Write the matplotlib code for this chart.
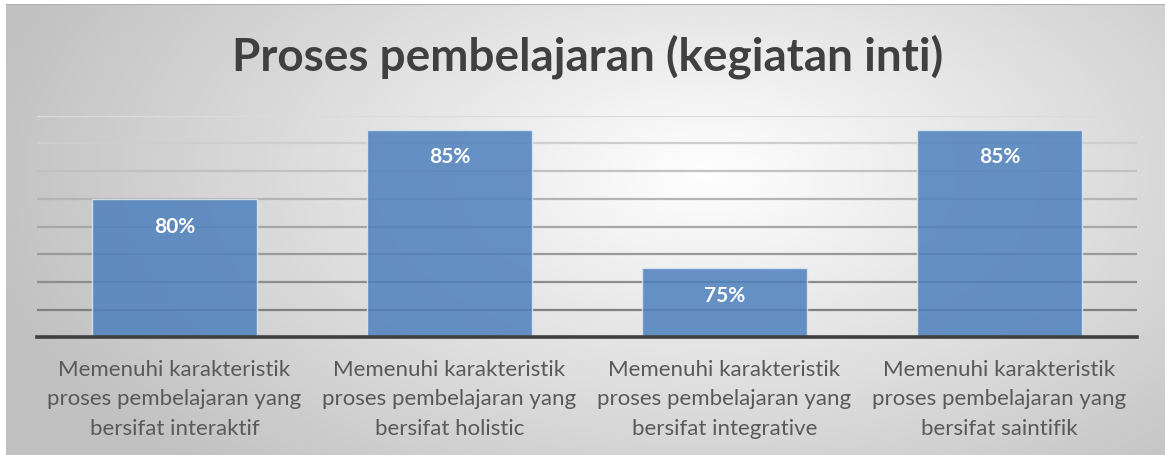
import numpy as np
import matplotlib.pyplot as plt

categories = [
    "Memenuhi karakteristik\nproses pembelajaran yang\nbersifat interaktif",
    "Memenuhi karakteristik\nproses pembelajaran yang\nbersifat holistic",
    "Memenuhi karakteristik\nproses pembelajaran yang\nbersifat integrative",
    "Memenuhi karakteristik\nproses pembelajaran yang\nbersifat saintifik",
]
values = [80, 85, 75, 85]
labels = ["80%", "85%", "75%", "85%"]
title = "Proses pembelajaran (kegiatan inti)"

W, H = 1165, 455
fig = plt.figure(figsize=(W / 100, H / 100), dpi=100)
fig.patch.set_facecolor("white")

# radial gray background of the chart area
bg = fig.add_axes([6 / W, 0, 1 - 6 / W, 1 - 4 / H])
yy, xx = np.mgrid[0:451, 0:1159]
d = np.sqrt(((xx - 700) / 760.0) ** 2 + ((yy - 170) / 420.0) ** 2)
g = np.clip(1.0 - 0.25 * d, 0.76, 1.0)
bg.imshow(np.dstack([g, g, g]), aspect="auto", extent=[0, 1, 0, 1])
bg.set_axis_off()
bg.plot([0, 1], [1, 1], color="#b0b0b0", lw=1.5, transform=bg.transAxes)

ax = fig.add_axes([37 / W, 1 - 337.3 / H, 1100 / W, (337.3 - 115.7) / H])
ax.patch.set_alpha(0)
x = np.arange(len(values))
bars = ax.bar(x, values, width=0.6, color="#4f81bd", alpha=0.86,
              edgecolor="#dce6f2", linewidth=1.0, zorder=2)
ax.set_xlim(-0.5, 3.5)
ax.set_ylim(70, 86)

# gridlines, lighter toward top
for v in range(72, 87, 2):
    t = (v - 72) / 14.0
    c = 0.5 + 0.36 * t
    ax.axhline(v, color=(c, c, c), lw=1.6, zorder=1)
ax.axhline(70, color="#404040", lw=2.6, zorder=4, clip_on=False)

for xi, v, lab in zip(x, values, labels):
    ax.text(xi, v - 2.0, lab, ha="center", va="center", color="white",
            fontsize=15, fontweight="bold", family="Lato", zorder=5)

ax.set_xticks(x)
ax.set_xticklabels(categories, fontsize=16, color="#595959", family="Lato",
                   linespacing=1.6)
ax.tick_params(axis="x", length=0, pad=16)
ax.set_yticks([])
for s in ax.spines.values():
    s.set_visible(False)

fig.text(588 / W, 1 - 57 / H, title, ha="center", va="center",
         fontsize=33, fontweight="bold", color="#404040", family="Lato")

fig.savefig("out.png", dpi=100)
